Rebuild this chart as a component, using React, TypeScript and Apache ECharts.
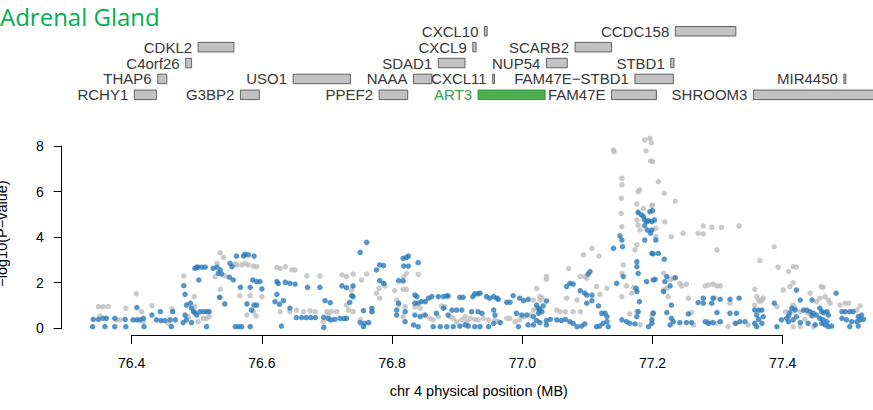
import React, { useEffect, useRef } from "react";
import * as echarts from "echarts";

// ---- data ----
const titleText = "Adrenal Gland";
const xTicks = [76.4, 76.6, 76.8, 77.0, 77.2, 77.4];
const yTicks = [0, 2, 4, 6, 8];
const xLabel = "chr 4 physical position (MB)";
const yLabel = "\u2212log10(P\u2212value)";

const geneNames = ["CXCL10", "CCDC158", "CDKL2", "CXCL9", "SCARB2", "C4orf26", "SDAD1", "NUP54", "STBD1", "THAP6", "USO1", "NAAA", "CXCL11", "FAM47E\u2212STBD1", "MIR4450", "RCHY1", "G3BP2", "PPEF2", "ART3", "FAM47E", "SHROOM3"];
const geneStart = [76.942, 77.235, 76.502, 76.924, 77.081, 76.483, 76.871, 77.037, 77.228, 76.44, 76.648, 76.833, 76.9545, 77.173, 77.494, 76.404, 76.567, 76.78, 76.932, 77.137, 77.355];
const geneEnd = [76.946, 77.328, 76.557, 76.929, 77.137, 76.492, 76.912, 77.069, 77.233, 76.454, 76.736, 76.861, 76.957, 77.232, 77.497, 76.438, 76.596, 76.824, 77.035, 77.206, 77.6];
const geneRow = [0, 0, 1, 1, 1, 2, 2, 2, 2, 3, 3, 3, 3, 3, 3, 4, 4, 4, 4, 4, 4];
const highlightGene = "ART3";

const grayPoints = [
[76.349,0.95],[76.356,0.95],[76.364,0.95],[76.391,0.88],[76.407,1.51],[76.431,0.99],[76.462,0.85],[76.377,0.37],[76.382,0.37],[76.351,0.54],[76.418,0.29],[76.456,0.22],[76.415,0.73],
[76.480,2.30],[76.496,1.39],[76.487,0.51],[76.497,0.95],[76.502,0.29],[76.510,0.44],[76.515,0.44],[76.519,0.51],[76.531,2.85],[76.536,3.32],[76.541,3.11],[76.528,2.27],[76.543,2.30],[76.559,2.81],[76.561,2.78],[76.569,2.78],[76.574,2.85],[76.579,2.78],[76.587,2.73],[76.592,2.70],[76.536,1.71],[76.536,1.36],[76.566,1.43],[76.582,1.43],[76.600,1.39],[76.577,0.58],[76.587,0.73],[76.591,0.54],[76.623,2.66],[76.628,2.63],[76.636,2.70],[76.646,2.56],[76.651,2.56],[76.628,0.73],[76.643,0.73],[76.653,0.80],[76.664,0.73],[76.674,0.77],[76.682,0.73],[76.669,2.30],[76.689,2.30],[76.700,0.73],[76.707,0.73],[76.702,0.58],[76.715,0.73],[76.733,0.80],[76.694,0.29],[76.723,2.34],[76.730,2.27],[76.740,2.38],[76.738,1.68],[76.740,0.73],[76.730,1.02],[76.761,2.38],[76.753,2.12],[76.751,0.37],[76.769,0.73],[76.776,1.54],[76.780,1.75],[76.781,1.32],[76.788,1.94],[76.789,1.86],[76.804,1.65],[76.807,1.24],[76.810,1.02],
[76.818,2.27],[76.822,2.41],[76.817,1.71],[76.822,1.71],[76.840,2.37],[76.835,0.95],[76.843,0.88],[76.820,0.95],[76.817,0.51],[76.848,0.58],[76.858,0.44],[76.863,0.37],[76.871,0.51],[76.876,0.98],[76.881,0.95],[76.889,0.51],[76.894,0.44],[76.899,0.29],[76.907,0.37],[76.912,0.51],[76.915,0.29],[76.920,0.44],[76.927,0.39],[76.932,0.37],[76.940,0.44],[76.948,0.37],[76.958,0.37],[76.963,0.29],[76.976,0.44],[76.981,0.44],[76.989,0.29],[76.996,0.37],[77.002,0.51],[77.012,0.58],[77.017,0.80],[77.022,0.88],[77.027,1.39],[77.030,1.32],[77.037,2.27],[77.037,2.15],[77.022,1.75],[77.017,1.24],[77.027,1.24],[77.053,0.80],[77.058,0.73],[77.066,0.73],[77.071,2.63],[77.068,1.32],[77.078,0.73],[77.089,0.73],[77.084,1.24],[77.094,3.22],[77.107,3.51],[77.118,3.17],[77.089,2.27],[77.096,2.27],[77.099,2.19],[77.114,1.83],[77.119,1.49],[77.130,1.75],[77.140,7.82],[77.141,7.75],
[77.188,8.26],[77.196,8.33],[77.198,8.14],[77.190,7.78],[77.197,7.34],[77.200,7.31],[77.209,6.43],[77.218,5.92],[77.235,5.58],[77.153,6.58],[77.153,6.29],[77.152,5.70],[77.152,5.04],[77.153,4.46],[77.178,5.99],[77.180,6.07],[77.176,5.45],[77.178,5.12],[77.186,5.26],[77.199,5.37],[77.200,5.41],[77.176,4.75],[77.178,4.53],[77.181,4.31],[77.176,3.66],[77.173,3.44],[77.205,4.39],[77.205,4.02],[77.219,4.68],[77.229,4.02],[77.247,4.17],[77.270,4.17],[77.278,4.14],[77.278,4.49],[77.291,4.43],[77.306,4.43],[77.333,4.49],[77.299,3.44],[77.155,2.78],[77.153,2.41],[77.153,1.39],[77.160,1.86],[77.168,1.54],[77.171,1.80],[77.217,2.41],[77.227,2.15],[77.232,2.19],[77.242,1.97],[77.245,1.86],[77.252,1.94],[77.281,1.86],[77.286,1.90],[77.293,1.94],[77.299,1.86],[77.304,1.86],[77.365,2.97],[77.387,3.58],[77.393,2.68],[77.409,2.49],[77.416,2.70],[77.421,2.68],[77.416,2.00],[77.411,1.83],[77.401,1.68],[77.357,1.71],[77.360,1.39],[77.363,1.24],[77.365,1.17],[77.368,1.24],[77.370,1.32],[77.357,1.02],[77.391,0.95],[77.404,0.73],[77.416,1.02],[77.419,0.88],[77.427,0.73],[77.434,0.39],[77.439,0.66],[77.442,1.54],[77.452,1.17],[77.457,1.32],[77.459,1.83],[77.462,1.80],[77.465,1.39],[77.470,1.24],[77.473,1.10],[77.488,1.02],[77.496,1.10],[77.501,1.10],[77.514,0.80],[77.519,0.98],[77.165,0.63],[77.176,0.73],[77.201,0.69],[77.199,0.58],[77.181,0.15],[77.260,0.69],[77.263,0.15],[77.286,0.29],[77.299,0.22],[77.316,0.07],[77.329,0.22],[77.347,0.15],[77.416,0.07],[77.427,0.07],[77.447,0.07],[77.222,1.75],[77.217,1.68],[77.224,1.39],[77.255,1.32],[77.296,1.32],[77.319,1.10]
];

const bluePoints = [
[76.340,0.07],[76.341,0.39],[76.349,0.39],[76.356,0.44],[76.361,0.44],[76.359,0.07],[76.374,0.07],[76.374,0.44],[76.390,0.39],[76.391,0.07],[76.402,0.37],[76.408,0.91],[76.408,0.37],[76.413,0.37],[76.418,0.44],[76.419,0.07],[76.431,0.58],[76.438,0.37],[76.444,0.73],[76.445,0.34],[76.451,0.34],[76.459,0.37],[76.461,0.07],[76.463,0.73],[76.467,0.37],
[76.480,1.87],[76.482,1.49],[76.484,1.02],[76.490,1.10],[76.492,0.88],[76.495,0.73],[76.497,2.63],[76.500,2.68],[76.502,2.68],[76.508,2.68],[76.513,2.68],[76.503,2.12],[76.497,0.69],[76.500,0.58],[76.505,0.73],[76.510,0.73],[76.515,0.73],[76.519,0.73],[76.482,0.58],[76.484,0.37],[76.479,0.25],[76.492,0.25],[76.515,0.07],[76.525,2.63],[76.531,2.68],[76.536,2.56],[76.533,2.41],[76.538,2.38],[76.535,1.36],[76.543,1.07],[76.550,2.24],[76.551,2.85],[76.554,2.70],[76.556,2.12],[76.561,3.17],[76.572,3.17],[76.574,3.25],[76.579,3.22],[76.588,3.17],[76.567,1.80],[76.582,1.80],[76.577,1.07],[76.584,0.80],[76.588,1.02],[76.592,1.02],[76.586,2.12],[76.592,2.05],[76.597,2.05],[76.600,1.73],[76.559,0.07],[76.564,0.07],[76.569,0.07],[76.582,0.07],[76.623,2.05],[76.625,1.97],[76.636,2.02],[76.643,1.97],[76.651,1.94],[76.623,1.49],[76.620,1.17],[76.627,1.05],[76.633,1.21],[76.643,0.88],[76.630,0.10],[76.653,0.47],[76.661,0.47],[76.668,0.47],[76.675,0.47],[76.682,0.47],[76.670,1.80],[76.689,1.80],[76.697,1.21],[76.705,1.13],[76.695,0.48],[76.695,0.04],[76.702,0.42],[76.706,0.37],[76.712,0.39],[76.720,0.44],[76.726,0.42],[76.730,0.44],[76.723,1.86],[76.730,1.78],[76.740,1.86],[76.738,1.43],[76.735,1.14],[76.740,1.39],[76.751,3.33],[76.761,3.77],[76.756,0.77],[76.769,0.88],[76.769,0.73],[76.751,0.25],[76.756,0.07],[76.758,0.22],[76.764,0.25],[76.776,2.56],[76.781,2.78],[76.787,2.75],[76.781,2.09],[76.787,1.97],[76.810,2.09],[76.807,0.80],[76.810,1.10],[76.807,0.58],
[76.817,3.07],[76.822,3.11],[76.825,3.17],[76.818,2.73],[76.825,2.73],[76.840,2.88],[76.817,2.08],[76.820,0.73],[76.820,0.29],[76.835,1.46],[76.838,1.39],[76.835,1.10],[76.840,1.10],[76.845,1.17],[76.851,1.17],[76.856,1.32],[76.861,1.39],[76.871,1.39],[76.879,1.39],[76.884,1.42],[76.886,1.42],[76.904,1.36],[76.909,1.36],[76.924,1.39],[76.927,1.51],[76.932,1.51],[76.935,1.54],[76.945,1.39],[76.950,1.32],[76.956,1.39],[76.961,1.32],[76.963,1.27],[76.976,1.14],[76.981,1.14],[76.986,1.43],[76.996,1.32],[77.002,1.21],[77.009,1.27],[77.022,1.02],[77.025,0.88],[77.027,0.80],[77.032,0.98],[77.037,1.20],[76.835,0.58],[76.843,0.51],[76.851,0.58],[76.868,0.66],[76.879,0.88],[76.892,0.80],[76.886,0.58],[76.899,0.80],[76.907,0.80],[76.922,0.73],[76.932,0.73],[76.938,0.66],[76.956,0.80],[76.958,0.58],[76.991,0.66],[76.999,0.58],[77.007,0.58],[77.017,0.51],[77.025,0.66],[77.030,0.73],[76.833,0.15],[76.840,0.07],[76.863,0.07],[76.874,0.07],[76.884,0.07],[76.894,0.07],[76.904,0.10],[76.912,0.15],[76.917,0.10],[76.927,0.07],[76.935,0.07],[76.948,0.07],[76.956,0.22],[76.966,0.25],[76.994,0.07],[77.009,0.15],[77.017,0.15],[77.027,0.25],[77.037,0.34],[77.043,0.39],[77.053,0.37],[77.060,0.34],[77.066,0.39],[77.073,0.29],[77.078,0.22],[77.084,0.07],[77.091,0.10],[77.096,0.19],[77.114,0.07],[77.119,0.10],[77.124,0.22],[77.130,0.29],[77.132,0.07],[77.022,0.34],[77.037,0.15],[77.068,1.83],[77.073,1.97],[77.078,1.94],[77.089,1.65],[77.096,1.54],[77.099,1.46],[77.101,2.38],[77.104,2.49],[77.107,1.46],[77.099,1.10],[77.107,1.21],[77.117,0.98],[77.122,0.66],[77.127,0.66],[77.130,0.51],[77.140,3.51],[77.145,1.97],
[77.150,4.05],[77.153,3.87],[77.154,3.58],[77.155,2.27],[77.176,2.70],[77.176,2.92],[77.178,2.41],[77.175,1.75],[77.176,1.61],[77.180,1.17],[77.178,0.73],[77.176,0.51],[77.160,0.29],[77.165,0.22],[77.153,0.37],[77.173,0.19],[77.194,0.07],[77.199,0.22],[77.199,0.37],[77.201,0.66],[77.178,5.07],[77.183,4.97],[77.186,4.90],[77.188,4.75],[77.191,4.68],[77.194,4.72],[77.199,4.68],[77.203,4.75],[77.196,5.12],[77.200,5.16],[77.188,4.50],[77.192,4.31],[77.199,4.31],[77.197,4.17],[77.188,3.87],[77.205,3.87],[77.199,3.29],[77.201,3.26],[77.209,3.29],[77.218,3.03],[77.201,2.12],[77.204,2.15],[77.191,2.05],[77.219,2.05],[77.222,2.27],[77.227,1.86],[77.235,2.22],[77.217,1.61],[77.229,1.02],[77.222,0.69],[77.229,0.44],[77.227,0.15],[77.232,0.29],[77.242,0.25],[77.252,0.25],[77.255,0.63],[77.260,0.25],[77.270,1.13],[77.278,1.32],[77.278,1.10],[77.293,1.32],[77.304,1.27],[77.319,1.27],[77.333,1.32],[77.291,1.10],[77.281,0.29],[77.286,0.22],[77.293,0.25],[77.304,0.29],[77.299,0.69],[77.319,0.66],[77.329,0.66],[77.327,0.22],[77.334,0.29],[77.342,0.29],[77.357,0.80],[77.363,0.80],[77.368,0.80],[77.360,0.58],[77.357,0.22],[77.363,0.39],[77.368,0.22],[77.370,0.51],[77.360,0.07],[77.387,1.10],[77.398,0.37],[77.391,0.07],[77.406,0.44],[77.409,0.54],[77.411,0.69],[77.414,0.88],[77.419,0.80],[77.421,1.68],[77.427,1.24],[77.432,0.80],[77.437,0.80],[77.445,1.24],[77.442,0.73],[77.445,0.54],[77.447,0.66],[77.452,0.58],[77.457,0.88],[77.460,0.73],[77.463,0.69],[77.468,0.73],[77.470,0.58],[77.457,0.44],[77.462,0.37],[77.468,0.29],[77.460,0.22],[77.465,0.15],[77.470,0.07],[77.475,0.10],[77.439,0.22],[77.450,0.15],[77.482,1.54],[77.491,0.73],[77.496,0.73],[77.503,0.73],[77.508,0.73],[77.491,0.44],[77.498,0.37],[77.506,0.29],[77.514,0.29],[77.516,0.51],[77.521,0.58],[77.519,0.37],[77.524,0.39],[77.503,0.07],[77.516,0.10],[77.409,0.29],[77.416,0.37],[77.427,0.25],[77.421,0.51]
];

// ---- layout constants ----
const W = 873;
const H = 410;
const PLOT_LEFT = 61.7;
const PLOT_W = 834.3;
const X_MIN = 76.2925;
const X_MAX = 77.574;
const FONT = '"Liberation Sans", Arial, Helvetica, sans-serif';

export default function App() {
  const ref = useRef<HTMLDivElement>(null);
  useEffect(() => {
    if (!ref.current) return;
    const chart = echarts.init(ref.current, null, { renderer: "svg" });
    const hiddenAxis = { show: false };
    const option: any = {
      animation: false,
      backgroundColor: "#ffffff",
      graphic: [
        {
          type: "text",
          x: 0,
          y: 16,
          style: {
            text: titleText,
            font: '24px "Open Sans", "Noto Sans", sans-serif',
            fill: "#00b050",
            verticalAlign: "middle",
          },
        },
      ],
      grid: [
        { left: PLOT_LEFT, width: PLOT_W, top: 132, bottom: 75, outerBoundsMode: "none" },
        { left: 131.7, right: W - 782.7, top: 132, bottom: 75, outerBoundsMode: "none" },
        { left: PLOT_LEFT, width: 10, top: 146, bottom: H - 328.3, outerBoundsMode: "none" },
        { left: PLOT_LEFT, width: PLOT_W, top: 23.35, height: 79.4, outerBoundsMode: "none" },
      ],
      xAxis: [
        {
          gridIndex: 0, type: "value", min: X_MIN, max: X_MAX,
          axisLine: { show: false }, axisTick: { show: false }, axisLabel: { show: false }, splitLine: { show: false },
          name: xLabel, nameLocation: "middle", nameGap: 48,
          nameTextStyle: { fontFamily: FONT, fontSize: 14.5, color: "#000" },
        },
        {
          gridIndex: 1, type: "value", min: xTicks[0], max: xTicks[xTicks.length - 1], interval: 0.2,
          axisLine: { show: true, onZero: false, lineStyle: { color: "#000", width: 1 } },
          axisTick: { show: true, inside: false, length: 9, lineStyle: { color: "#000", width: 1 } },
          axisLabel: { show: true, margin: 21, fontFamily: FONT, fontSize: 14, color: "#000", formatter: (v: number) => v.toFixed(1), showMinLabel: true, showMaxLabel: true },
          splitLine: { show: false },
        },
        { gridIndex: 2, type: "value", min: 0, max: 1, ...hiddenAxis },
        { gridIndex: 3, type: "value", min: X_MIN, max: X_MAX, ...hiddenAxis },
      ],
      yAxis: [
        {
          gridIndex: 0, type: "value", min: -0.294, max: 8.61,
          axisLine: { show: false }, axisTick: { show: false }, axisLabel: { show: false }, splitLine: { show: false },
          name: yLabel, nameLocation: "middle", nameGap: 52,
          nameTextStyle: { fontFamily: FONT, fontSize: 14.5, color: "#000" },
        },
        { gridIndex: 1, type: "value", min: 0, max: 1, ...hiddenAxis },
        {
          gridIndex: 2, type: "value", min: yTicks[0], max: yTicks[yTicks.length - 1], interval: 2,
          axisLine: { show: true, onZero: false, lineStyle: { color: "#000", width: 1 } },
          axisTick: { show: true, inside: false, length: 8, lineStyle: { color: "#000", width: 1 } },
          axisLabel: { show: true, margin: 18, fontFamily: FONT, fontSize: 14, color: "#000", showMinLabel: true, showMaxLabel: true },
          splitLine: { show: false },
        },
        { gridIndex: 3, type: "value", min: -0.5, max: 4.5, inverse: true, ...hiddenAxis },
      ],
      series: [
        {
          type: "scatter", xAxisIndex: 0, yAxisIndex: 0,
          data: grayPoints, symbol: "circle", symbolSize: 5.5,
          itemStyle: { color: "#bdbdbd" }, silent: true,
        },
        {
          type: "scatter", xAxisIndex: 0, yAxisIndex: 0,
          data: bluePoints, symbol: "circle", symbolSize: 5.5,
          itemStyle: { color: "#2b7bbb" }, silent: true,
        },
        {
          type: "custom", xAxisIndex: 3, yAxisIndex: 3, silent: true,
          data: geneNames.map((_, i) => [geneStart[i], geneEnd[i], geneRow[i]]),
          encode: { x: [0, 1], y: 2 },
          renderItem: (params: any, api: any) => {
            const i = params.dataIndex;
            const s = api.coord([api.value(0), api.value(2)]);
            const e = api.coord([api.value(1), api.value(2)]);
            const hl = geneNames[i] === highlightGene;
            const h = 9.5;
            return {
              type: "group",
              children: [
                {
                  type: "rect",
                  shape: { x: s[0], y: s[1] - h / 2, width: Math.max(e[0] - s[0], 1.8), height: h },
                  style: { fill: hl ? "#4cb050" : "#c2c2c2", stroke: hl ? "#2e8b3e" : "#555555", lineWidth: 0.9 },
                },
                {
                  type: "text",
                  style: {
                    text: geneNames[i], x: s[0] - 6, y: s[1],
                    align: "right", verticalAlign: "middle",
                    font: `15px ${FONT}`, fill: hl ? "#2ea04e" : "#383838",
                  },
                },
              ],
            };
          },
        },
      ],
    };
    chart.setOption(option);
    return () => chart.dispose();
  }, []);
  return (
    <div
      ref={ref}
      style={{ position: "fixed", left: 0, top: 0, width: W, height: H, background: "#fff" }}
    />
  );
}
